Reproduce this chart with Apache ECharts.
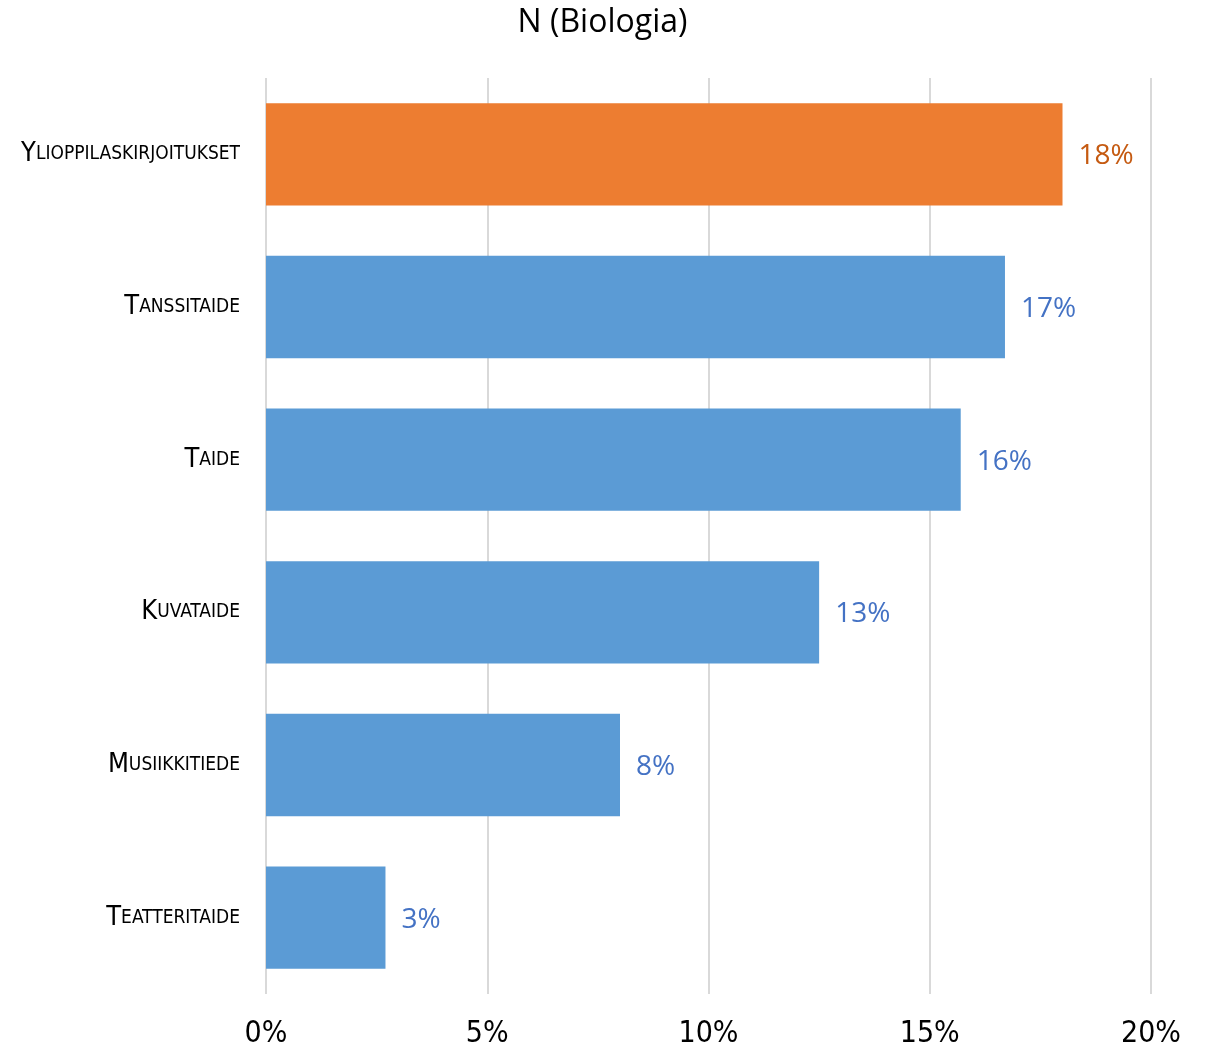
<html>
<head>
<meta charset="utf-8"/>
<title>N (Biologia)</title>
<script src="https://cdn.jsdelivr.net/npm/echarts@6/dist/echarts.min.js"></script>
<style>
  body { margin: 0; background: #fff; }
  #main { width: 1205px; height: 1050px; }
</style>
</head>
<body>
<div id="main"></div>
<script type="text/javascript">
    var categories = ['Ylioppilaskirjoitukset', 'Tanssitaide', 'Taide', 'Kuvataide', 'Musiikkitiede', 'Teatteritaide'];
    var values = [0.180, 0.167, 0.157, 0.125, 0.080, 0.027];
    var barColors = ['#ED7D31', '#5B9BD5', '#5B9BD5', '#5B9BD5', '#5B9BD5', '#5B9BD5'];
    var labelColors = ['#C55A11', '#4472C4', '#4472C4', '#4472C4', '#4472C4', '#4472C4'];
    var tickValues = [0, 0.05, 0.10, 0.15, 0.20];

    var narrow = "'DejaVu Sans Condensed', 'Liberation Sans Narrow', Roboto, sans-serif";

    var myChart = echarts.init(document.getElementById('main'));

    var seriesData = [];
    for (var i = 0; i < values.length; i++) {
        seriesData.push({
            value: values[i],
            itemStyle: {color: barColors[i]},
            label: {color: labelColors[i]}
        });
    }

    var option = {
        animation: false,
        title: {
            text: 'N (Biologia)',
            left: 'center',
            top: 2,
            textStyle: {
                fontFamily: 'Open Sans',
                fontWeight: 'normal',
                fontSize: 32,
                color: '#000'
            }
        },
        grid: {
            left: 266,
            right: 54,
            top: 78,
            bottom: 56,
            containLabel: false,
            outerBoundsMode: 'none'
        },
        xAxis: {
            type: 'value',
            min: tickValues[0],
            max: tickValues[tickValues.length - 1],
            interval: 0.05,
            axisLine: {show: false},
            axisTick: {show: false},
            splitLine: {lineStyle: {color: '#d9d9d9', width: 2}},
            axisLabel: {
                margin: 25,
                fontFamily: narrow,
                fontSize: 30,
                color: '#000',
                formatter: function (v) { return Math.round(v * 100) + '%'; }
            }
        },
        yAxis: {
            type: 'category',
            inverse: true,
            data: categories,
            axisLine: {show: false},
            axisTick: {show: false},
            axisLabel: {
                margin: 26,
                formatter: function (v) {
                    return '{a|' + v.charAt(0).toUpperCase() + '}{b|' + v.slice(1).toUpperCase() + '}';
                },
                rich: {
                    a: {fontFamily: narrow, fontSize: 27, color: '#000'},
                    b: {fontFamily: narrow, fontSize: 19, color: '#000'}
                }
            }
        },
        series: [{
            type: 'bar',
            data: seriesData,
            barCategoryGap: '33%',
            label: {
                show: true,
                position: 'right',
                distance: 16,
                offset: [0, 2],
                fontFamily: 'Open Sans',
                fontSize: 28,
                formatter: function (p) { return Math.round(p.value * 100) + '%'; }
            }
        }]
    };

    myChart.setOption(option);
</script>
</body>
</html>
